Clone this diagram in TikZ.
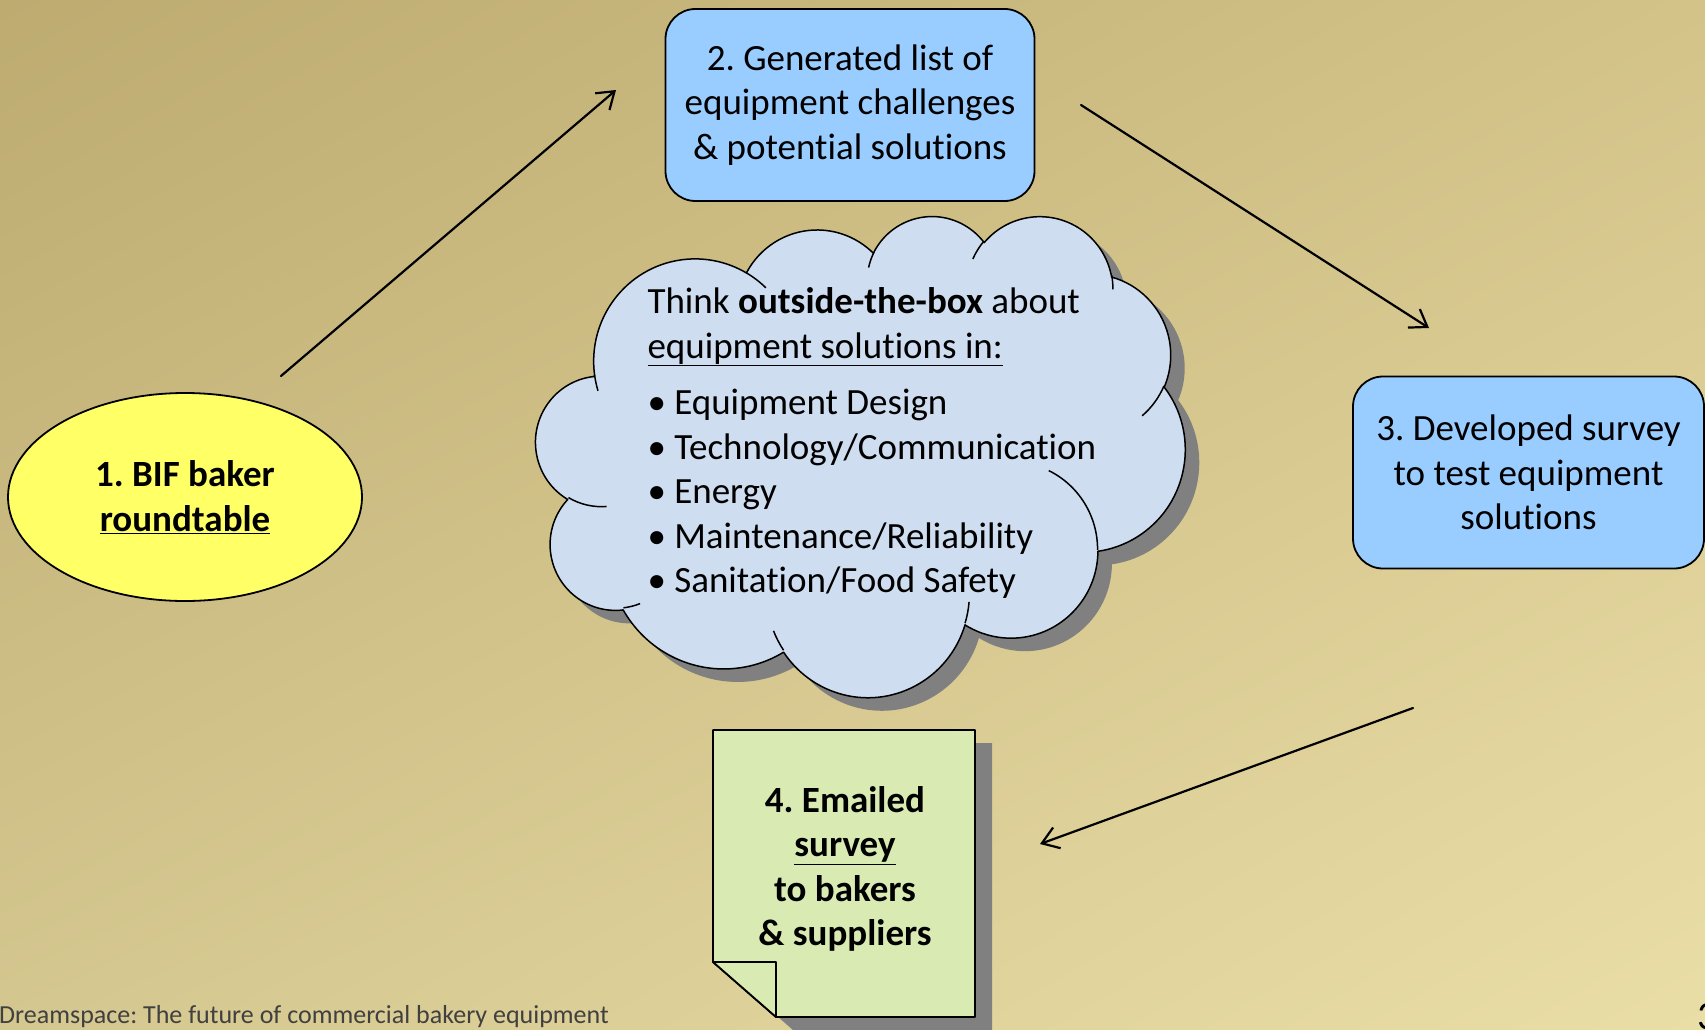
\documentclass[tikz,border=0pt]{standalone}
\usepackage{fontspec}
\setmainfont{Carlito}[Ligatures=NoCommon]
\usetikzlibrary{arrows.meta,shapes.geometric,shadings}
\definecolor{bgtl}{RGB}{189,171,112}
\definecolor{bgtr}{RGB}{211,195,137}
\definecolor{bgbl}{RGB}{212,199,143}
\definecolor{bgbr}{RGB}{234,222,167}
\definecolor{stepblue}{RGB}{153,204,255}
\definecolor{cloudblue}{RGB}{206,221,240}
\definecolor{bifyellow}{RGB}{255,255,102}
\definecolor{notegreen}{RGB}{217,234,179}
\definecolor{shadowgray}{RGB}{128,128,128}
\definecolor{footgray}{RGB}{64,64,64}
\newcommand\bigfont{\fontsize{37}{44.5}\selectfont}
% one lobe of the cloud: x radius, y radius, start angle, sweep (ray angles)
\newcommand\lobe[4]{arc[x radius=#1, y radius=#2,
  start angle={atan2(#1*sin(#3),#2*cos(#3))},
  delta angle={Mod(atan2(#1*sin(#3+#4),#2*cos(#3+#4))-atan2(#1*sin(#3),#2*cos(#3)),360)}]}
\newcommand\cloudpath{(9.028,33.264)
  \lobe{15.632}{21.273}{-190.4875}{123.7805}
  \lobe{12.345}{16.822}{-144.1024}{89.9452}
  \lobe{10.104}{13.762}{-145.8079}{99.7230}
  \lobe{11.243}{15.266}{-130.9861}{117.2417}
  \lobe{12.345}{16.836}{-78.7089}{109.0269}
  \lobe{15.683}{21.343}{-46.2673}{130.2690}
  \lobe{13.391}{18.211}{0.6250}{114.0333}
  \lobe{15.630}{21.331}{22.4516}{115.1726}
  \lobe{17.870}{24.405}{66.2426}{75.7110}
  \lobe{10.093}{13.699}{-274.9421}{146.7356}
  \lobe{10.058}{13.762}{-246.8285}{152.5189} -- cycle}
\begin{document}
\frenchspacing
\begin{tikzpicture}[x=1pt, y=-1pt, line join=round, font=\bigfont,
  stepbox/.style={draw, line width=1.8pt, fill=stepblue, rounded corners=30pt,
    minimum width=#1, minimum height=192pt, inner sep=0pt, align=center},
  flow/.style={line width=2.2pt, line cap=round, -{Straight Barb[length=16pt, width=22pt]}}]
  \useasboundingbox (0,0) rectangle (1705,1030);
  \clip (0,0) rectangle (1705,1030);
  \shade[upper left=bgtl, upper right=bgtr, lower left=bgbl, lower right=bgbr] (0,0) rectangle (1705,1030);

  \node[ellipse, draw, line width=1.8pt, fill=bifyellow, minimum width=354pt, minimum height=208pt,
    inner sep=0pt, align=center, font=\bigfont\bfseries] (bif) at (185,497) {1. BIF baker\\\underline{roundtable}};
  \node[stepbox=369pt] (list) at (850,105) {2. Generated list of\\equipment challenges\\\& potential solutions};
  \node[stepbox=351pt] (survey) at (1528.5,472.5) {3. Developed survey\\to test equipment\\solutions};

  % thought cloud with its shadow
  \begin{scope}[shift={(550,228)}, x=6.49pt, y=-4.81pt]
    \fill[shadowgray] \cloudpath;
  \end{scope}
  \begin{scope}[shift={(536,215)}, x=6.49pt, y=-4.81pt, line width=1.5pt]
    \filldraw[fill=cloudblue] \cloudpath;
    \draw (10.863,60.595) \lobe{10.058}{13.762}{86.742}{26.430}
      (16.037,80.785) \lobe{10.093}{13.699}{73.610}{11.447}
      (38.144,90.486) \lobe{15.630}{21.331}{137.624}{14.081}
      (66.729,80.442) \lobe{15.630}{21.331}{6.453}{15.998}
      (79.002,53.134) \lobe{13.391}{18.211}{-70.292}{70.917}
      (96.755,35.542) \lobe{12.345}{16.836}{30.318}{27.752}
      (88.713,12.560) \lobe{11.243}{15.266}{-13.744}{14.859}
      (67.310,9.148) \lobe{11.243}{15.266}{-149.181}{18.195}
      (51.252,10.926) \lobe{10.104}{13.762}{-163.494}{17.686}
      (32.407,12.019) \lobe{15.632}{21.273}{-66.707}{12.319}
      (9.553,36.549) \lobe{15.632}{21.273}{157.654}{11.858};
  \end{scope}
  \node[anchor=west, align=left] (think) at (644,443) {Think \textbf{outside-the-box} about\\
    \underline{equipment solutions in:}\\[12pt]
    • Equipment Design\\• Technology/Communication\\• Energy\\
    • Maintenance/Reliability\\• Sanitation/Food Safety};

  % sticky note with folded corner
  \fill[shadowgray] (730,743) -- (992,743) -- (992,1030) -- (793,1030) -- (730,975) -- cycle;
  \filldraw[fill=notegreen, line width=1.8pt] (713,730) -- (975,730) -- (975,1017) -- (776,1017) -- (713,962) -- cycle;
  \filldraw[fill=notegreen, line width=1.8pt] (713,962) -- (776,962) -- (776,1017) -- cycle;
  \node[align=center, font=\bigfont\bfseries] (emailed) at (845,869) {4. Emailed\\\underline{survey}\\to bakers\\\& suppliers};

  \coordinate (r1) at (281,376);
  \coordinate (r2) at (616,90);
  \coordinate (g1) at (1081,105);
  \coordinate (g2) at (1429,328);
  \coordinate (d1) at (1413,708);
  \coordinate (d2) at (1040,844);
  \draw[flow] (r1) -- (r2);
  \draw[flow] (g1) -- (g2);
  \draw[flow] (d1) -- (d2);

  \node[anchor=base west, inner sep=0pt, text=footgray, font=\fontsize{26}{31}\selectfont] (footer) at (-1,1023)
    {Dreamspace: The future of commercial bakery equipment};
  \node[anchor=base west, inner sep=0pt, font=\fontsize{40}{48}\selectfont] (page) at (1697,1029) {3};
\end{tikzpicture}
\end{document}
